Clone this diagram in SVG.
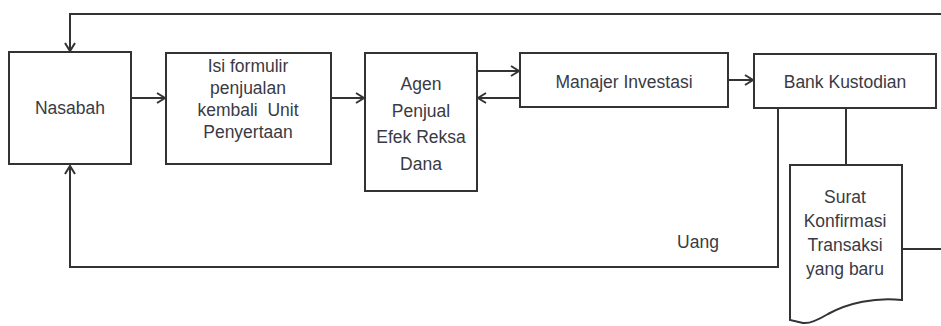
<svg xmlns="http://www.w3.org/2000/svg" width="941" height="326" viewBox="0 0 941 326">
<style>
.box{fill:#fff;stroke:#333;stroke-width:2}
.ln{fill:none;stroke:#333;stroke-width:2}
.arr{marker-end:url(#ah)}
text{font-family:"Liberation Sans",Arial,sans-serif;font-size:17.5px;fill:#3a3a44;text-anchor:middle}
</style>
<defs>
<marker id="ah" markerWidth="12" markerHeight="12" refX="10" refY="6" orient="auto" markerUnits="userSpaceOnUse">
<path d="M2,1 L10,6 L2,11" fill="none" stroke="#333" stroke-width="2"/>
</marker>
</defs>
<rect width="941" height="326" fill="#fff"/>
<g id="connectors">
<path class="ln arr" d="M941,14 L70,14 L70,51"/>
<path class="ln arr" d="M131,98 L165,98"/>
<path class="ln arr" d="M331,98 L364,98"/>
<path class="ln arr" d="M477,71 L519,71"/>
<path class="ln arr" d="M520,98 L478,98"/>
<path class="ln arr" d="M728,80 L753,80"/>
<path class="ln arr" d="M778,108 L778,267 L70,267 L70,166"/>
<path class="ln" d="M846,108 L846,165"/>
<path class="ln" d="M902,249 L941,249"/>
</g>
<g id="nasabah">
<rect class="box" x="9" y="52" width="122" height="112"/>
<text x="70" y="114">Nasabah</text>
</g>
<g id="isi-formulir">
<rect class="box" x="166" y="53" width="165" height="111"/>
<text x="248" y="72">Isi formulir</text>
<text x="248" y="94">penjualan</text>
<text x="248" y="116" xml:space="preserve">kembali  Unit</text>
<text x="248" y="138">Penyertaan</text>
</g>
<g id="agen">
<rect class="box" x="365" y="53" width="112" height="138"/>
<text x="421" y="90">Agen</text>
<text x="421" y="116.5">Penjual</text>
<text x="421" y="143">Efek Reksa</text>
<text x="421" y="169.5">Dana</text>
</g>
<g id="manajer">
<rect class="box" x="520" y="53" width="208" height="54"/>
<text x="624" y="88">Manajer Investasi</text>
</g>
<g id="bank">
<rect class="box" x="754" y="54" width="182" height="54"/>
<text x="845" y="88">Bank Kustodian</text>
</g>
<g id="surat">
<path class="box" d="M790,165 L902,165 L902,300 C875,297 848,303 828,314 C818,320 810,324 803,323 L790,320 Z"/>
<text x="845" y="203">Surat</text>
<text x="845" y="227">Konfirmasi</text>
<text x="845" y="251">Transaksi</text>
<text x="845" y="275">yang baru</text>
</g>
<g id="uang-label">
<text x="698" y="248">Uang</text>
</g>
</svg>
